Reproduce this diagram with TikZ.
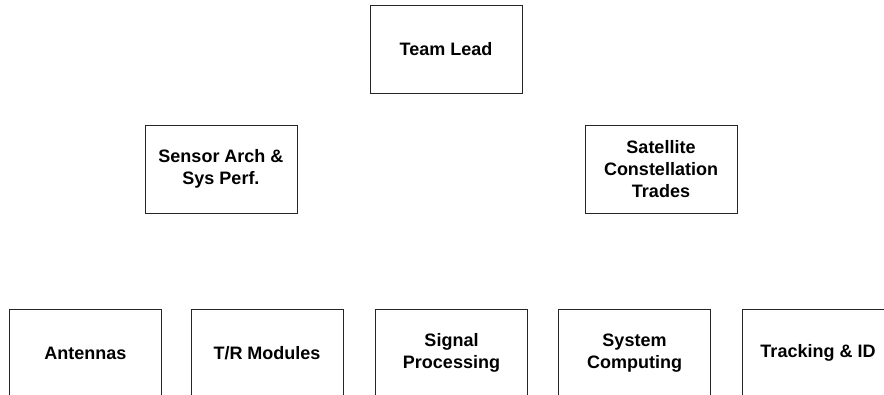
\documentclass[tikz,border=0pt]{standalone}
\usepackage{fontspec}
\setmainfont{Liberation Sans}
\begin{document}
\begin{tikzpicture}[x=1pt,y=-1pt,
  box/.style={draw=black!85, line width=0.9pt, minimum width=152pt, minimum height=88pt,
    inner sep=0pt, align=center, font=\fontsize{18}{22}\selectfont\bfseries, fill=white}]
\useasboundingbox (0,0) rectangle (884,395);
\node[box] (lead) at (446,49) {Team Lead};
\node[box] (sensor) at (221,169) {Sensor Arch \&\\Sys Perf.};
\node[box] (sat) at (661,169) {Satellite\\Constellation\\Trades};
\node[box] (ant) at (85.5,353) {Antennas};
\node[box] (tr) at (267,353) {T/R Modules};
\node[box] (sig) at (451.5,353) {Signal\\Processing};
\node[box] (sys) at (634.5,353) {System\\Computing};
\node[box] (trk) at (818,353) {Tracking \& ID};
\end{tikzpicture}
\end{document}
